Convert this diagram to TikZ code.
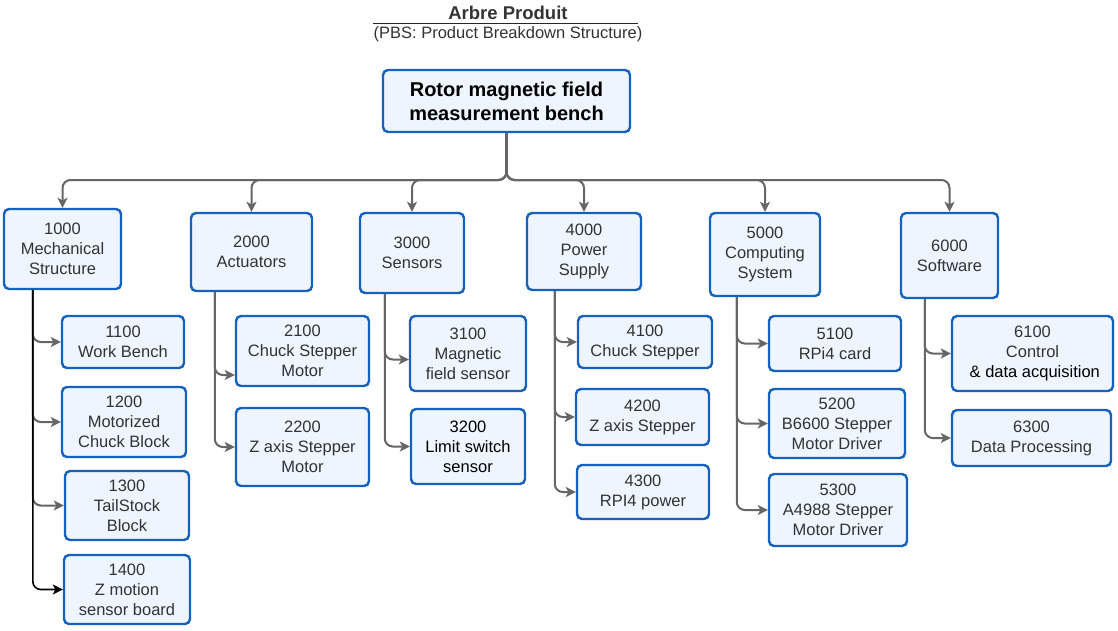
\documentclass[tikz,border=0pt]{standalone}
\usepackage{fontspec}
\setmainfont{Liberation Sans}
\usetikzlibrary{arrows.meta,calc}
\definecolor{boxblue}{HTML}{1660BE}
\definecolor{boxfill}{HTML}{EEF5FE}
\definecolor{txt}{HTML}{333333}
\definecolor{edgegrey}{HTML}{666666}
\definecolor{trunkgrey}{HTML}{555555}
\begin{document}
\begin{tikzpicture}[x=1pt,y=-1pt,
  box/.style={draw=boxblue,fill=boxfill,line width=2.4pt,rounded corners=5pt,
    text=txt,align=center,inner sep=2pt,
    font=\fontsize{16.5}{20}\selectfont},
  rootbox/.style={box,text=black,font=\fontsize{20}{24}\selectfont\bfseries},
  conn/.style={draw=edgegrey,line width=2pt,rounded corners=8pt,
    -{Stealth[length=10pt,width=10pt,inset=2.5pt]}},
  darkconn/.style={conn,draw=black,line width=1.6pt}]
\useasboundingbox (0,0) rectangle (1118,630);

% titles
\node[text=txt,font=\fontsize{18.5}{22}\selectfont\bfseries] (title) at (508,13) {Arbre Produit};
\draw[line width=1pt,black!85] (373,23.5) -- (638,23.5);
\node[text=txt,font=\fontsize{16.5}{20}\selectfont] (subtitle) at (508,34.5) {(PBS: Product Breakdown Structure)};

% root
\node[rootbox,minimum width=247pt,minimum height=62pt] (root) at (506.5,101) {Rotor magnetic field\\measurement bench};

% level 1
\node[box,minimum width=117pt,minimum height=80pt] (n1000) at (62.5,249) {1000\\Mechanical\\Structure};
\node[box,minimum width=121pt,minimum height=78pt] (n2000) at (251.5,252) {2000\\Actuators};
\node[box,minimum width=104pt,minimum height=80pt] (n3000) at (412,253) {3000\\Sensors};
\node[box,minimum width=114pt,minimum height=77pt] (n4000) at (584,251.5) {4000\\Power\\Supply};
\node[box,minimum width=110pt,minimum height=83pt] (n5000) at (765,254.5) {5000\\Computing\\System};
\node[box,minimum width=97pt,minimum height=85pt] (n6000) at (949.5,255.5) {6000\\Software};

% level 2
\node[box,minimum width=122pt,minimum height=52pt] (n1100) at (123,342) {1100\\Work Bench};
\node[box,minimum width=124pt,minimum height=70pt] (n1200) at (124,422) {1200\\Motorized\\Chuck Block};
\node[box,minimum width=124pt,minimum height=69pt] (n1300) at (127,505.5) {1300\\TailStock\\Block};
\node[box,minimum width=126pt,minimum height=69pt] (n1400) at (127,589.5) {1400\\Z motion\\sensor board};

\node[box,minimum width=133pt,minimum height=70pt] (n2100) at (302.5,351) {2100\\Chuck Stepper\\Motor};
\node[box,minimum width=133pt,minimum height=78pt] (n2200) at (302.5,447) {2200\\Z axis Stepper\\Motor};

\node[box,minimum width=116pt,minimum height=75pt] (n3100) at (468,353.5) {3100\\Magnetic\\field sensor};
\node[box,text=black,minimum width=114pt,minimum height=75pt] (n3200) at (468,446.5) {3200\\Limit switch\\sensor};

\node[box,minimum width=134pt,minimum height=52pt] (n4100) at (645,342) {4100\\Chuck Stepper};
\node[box,minimum width=133pt,minimum height=56pt] (n4200) at (642.5,417) {4200\\Z axis Stepper};
\node[box,minimum width=132pt,minimum height=54pt] (n4300) at (643,492) {4300\\RPI4 power};

\node[box,minimum width=132pt,minimum height=55pt] (n5100) at (835,343.5) {5100\\RPi4 card};
\node[box,minimum width=136pt,minimum height=69pt] (n5200) at (837,423.5) {5200\\B6600 Stepper\\Motor Driver};
\node[box,minimum width=138pt,minimum height=72pt] (n5300) at (838,510) {5300\\A4988 Stepper\\Motor Driver};

\node[box,minimum width=161pt,minimum height=75pt] (n6100) at (1032.5,353.5) {6100\\Control\\\textcolor{black}{\ \& data acquisition}};
\node[box,minimum width=159pt,minimum height=56pt] (n6300) at (1031.5,438) {6300\\Data Processing};

% root connectors
\coordinate (bus) at (0,180);
\draw[trunkgrey,line width=3pt] (root.south) -- ([yshift=4pt]root.south |- bus);
\foreach \c in {n1000,n2000,n3000,n4000,n5000,n6000}
  \draw[conn] (root.south) -- (root.south |- bus) -| (\c.north);

% level-2 connectors
\draw[conn] ([xshift=30pt]n1000.south west) |- (n1100.west);
\draw[conn] ([xshift=30pt]n1000.south west) |- (n1200.west);
\draw[conn] ([xshift=30pt]n1000.south west) |- (n1300.west);
\draw[darkconn] ([xshift=30pt]n1000.south west) |- (n1400.west);

\draw[conn] ([xshift=25pt]n2000.south west) |- ([yshift=-24pt]n2100.west);
\draw[conn] ([xshift=25pt]n2000.south west) |- (n2200.west);

\draw[conn] ([xshift=26pt]n3000.south west) |- ([yshift=-6pt]n3100.west);
\draw[conn] ([xshift=26pt]n3000.south west) |- (n3200.west);

\draw[conn] ([xshift=29pt]n4000.south west) |- (n4100.west);
\draw[conn] ([xshift=29pt]n4000.south west) |- (n4200.west);
\draw[conn] ([xshift=29pt]n4000.south west) |- (n4300.west);

\draw[conn] ([xshift=28pt]n5000.south west) |- (n5100.west);
\draw[conn] ([xshift=28pt]n5000.south west) |- (n5200.west);
\draw[conn] ([xshift=28pt]n5000.south west) |- (n5300.west);

\draw[conn] ([xshift=25pt]n6000.south west) |- (n6100.west);
\draw[conn] ([xshift=25pt]n6000.south west) |- (n6300.west);
\end{tikzpicture}
\end{document}
